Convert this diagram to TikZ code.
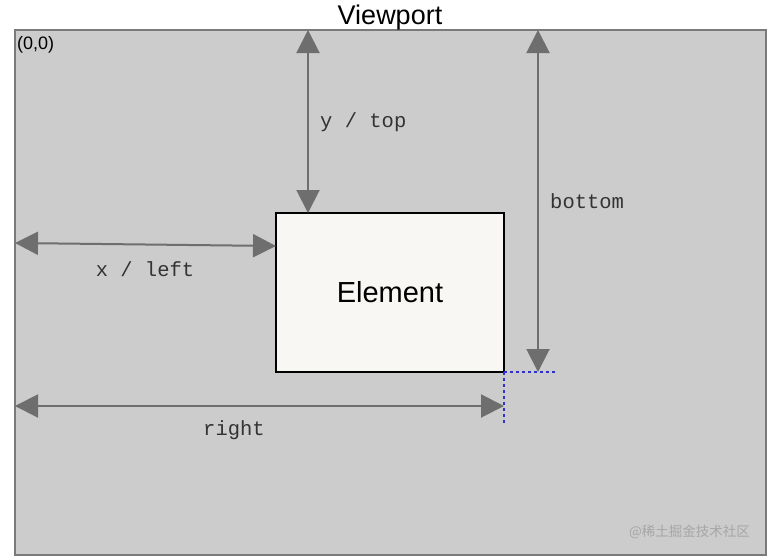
\documentclass[tikz,border=0pt]{standalone}
\usepackage{fontspec}
\setmainfont{Liberation Sans}
\setmonofont{Liberation Mono}
\newfontfamily\cjk{Noto Sans CJK SC}
\usetikzlibrary{arrows.meta}
\definecolor{vpfill}{HTML}{CCCCCC}
\definecolor{vpline}{HTML}{7A7A7A}
\definecolor{elfill}{HTML}{F8F7F3}
\definecolor{arrowgray}{HTML}{6E6E6E}
\definecolor{dotblue}{HTML}{3030D0}
\definecolor{wmgray}{HTML}{A6A6A6}
\tikzset{
  dimarrow/.style={draw=arrowgray, line width=2pt,
    {Triangle[length=23pt,width=23pt]}-{Triangle[length=23pt,width=23pt]}, fill=arrowgray},
  monolabel/.style={font=\ttfamily\fontsize{20.5}{24}\selectfont, text=black!80, inner sep=0pt},
  guide/.style={draw=dotblue, line width=1.3pt, dash pattern=on 3pt off 3pt}
}
\begin{document}
\begin{tikzpicture}[x=1pt,y=-1pt]
\useasboundingbox (0,0) rectangle (768,557);
\fill[white] (0,0) rectangle (768,557);
\node[minimum width=751pt, minimum height=525pt, inner sep=0pt, outer sep=0pt,
  fill=vpfill, draw=vpline, line width=1.5pt] (vp) at (390.5,292.5) {};
\node[font=\fontsize{27}{32}\selectfont, inner sep=0pt, anchor=base] (title) at (390,24) {Viewport};
\node[font=\fontsize{18}{21}\selectfont, anchor=north west, inner sep=0pt] (origin) at (17,36) {(0,0)};
\node[minimum width=228pt, minimum height=159pt, inner sep=0pt, outer sep=0pt,
  fill=elfill, draw=black, line width=1.2pt, font=\fontsize{29}{32}\selectfont] (el) at (390,292.5) {Element};
% coordinates
\coordinate (topA) at (308,30);
\coordinate (topB) at (el.north -| topA);
\coordinate (botA) at (538,30);
\coordinate (botB) at (el.south -| botA);
\coordinate (leftA) at (15,243);
\coordinate (leftB) at (276,246);
\coordinate (rightA) at (15,406);
\coordinate (rightB) at (el.east |- rightA);
\coordinate (corner) at (el.south east);
\coordinate (hguide) at (556,372);
\coordinate (vguide) at (504,424);
% arrows
\draw[dimarrow] (topA) -- (topB);
\draw[dimarrow] (botA) -- (botB);
\draw[dimarrow] (leftA) -- (leftB);
\draw[dimarrow] (rightA) -- (rightB);
% guides
\draw[guide] (corner) -- (hguide);
\draw[guide] (corner) -- (vguide);
% labels
\node[monolabel, anchor=west] (ltop) at (320,122) {y / top};
\node[monolabel, anchor=west] (lbot) at (550,201) {bottom};
\node[monolabel] (lleft) at (145,269) {x / left};
\node[monolabel] (lright) at (234,430) {right};
\node[font=\cjk\fontsize{13.5}{16}\selectfont, text=wmgray, anchor=east, inner sep=0pt] (wm) at (750,532) {@稀土掘金技术社区};
\end{tikzpicture}
\end{document}
